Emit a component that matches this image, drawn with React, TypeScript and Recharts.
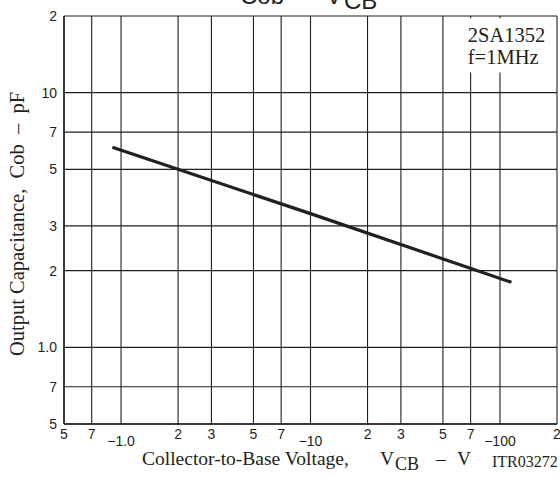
import { CartesianGrid, Customized, Line, LineChart, ReferenceArea, XAxis, YAxis } from "recharts";

// Cob vs VCB (magnitudes, volts / pF)
const vcb = [0.9, 10, 115];
const cob = [6.1, 3.35, 1.8];

const xTicks = [0.5, 0.7, 1, 2, 3, 5, 7, 10, 20, 30, 50, 70, 100, 200];
const xTickLabels = ["5", "7", "\u22121.0", "2", "3", "5", "7", "\u221210", "2", "3", "5", "7", "\u2212100", "2"];
const yTicks = [0.5, 0.7, 1, 2, 3, 5, 7, 10, 20];
const yTickLabels = ["5", "7", "1.0", "2", "3", "5", "7", "10", "2"];

const data = vcb.map((v, i) => ({ vcb: v, cob: cob[i] }));

const SANS = '"Liberation Sans", Arial, sans-serif';
const SERIF = '"Liberation Serif", "Times New Roman", serif';
const INK = "#231f20";

function XTick(props: any) {
    const { x, y, payload } = props;
    const i = xTicks.indexOf(payload.value);
    const decade = payload.value === 1 || payload.value === 10 || payload.value === 100;
    return (
        <text x={x} y={y + (decade ? 22 : 15)} textAnchor="middle" fontFamily={SANS} fontSize={14} fill={INK}>
            {xTickLabels[i]}
        </text>
    );
}

function YTick(props: any) {
    const { x, y, payload } = props;
    const i = yTicks.indexOf(payload.value);
    return (
        <text x={x - 7} y={y + 5} textAnchor="end" fontFamily={SANS} fontSize={14} fill={INK}>
            {yTickLabels[i]}
        </text>
    );
}

function DeviceLabel(props: any) {
    const vb = props.viewBox || { x: 465, y: 18 };
    return (
        <g fontFamily={SERIF} fontSize={20.5} fill={INK}>
            <text x={vb.x + 2} y={vb.y + 24}>2SA1352</text>
            <text x={vb.x + 2} y={vb.y + 46}>f=1MHz</text>
        </g>
    );
}

function Annotations() {
    return (
        <g fill={INK}>
            <text y={4} fontFamily={SANS} fontSize={24}>
                <tspan x={240}>Cob</tspan>
                <tspan x={298}>{"\u2013"}</tspan>
                <tspan x={326}>V</tspan>
                <tspan x={344} dy={5}>CB</tspan>
            </text>
            <text y={465} fontFamily={SERIF} fontSize={19.5}>
                <tspan x={142}>Collector-to-Base Voltage,</tspan>
                <tspan x={380}>V</tspan>
                <tspan x={395} dy={5} fontSize={18}>CB</tspan>
                <tspan x={436} dy={-5}>{"\u2013"}</tspan>
                <tspan x={457}>V</tspan>
            </text>
            <text x={492} y={467} fontFamily={SERIF} fontSize={16}>ITR03272</text>
            <text transform="rotate(-90)" x={-224} y={24} textAnchor="middle" fontFamily={SERIF} fontSize={20.5}>
                {"Output Capacitance,\u00a0\u00a0Cob\u00a0\u00a0\u2013\u00a0\u00a0pF"}
            </text>
        </g>
    );
}

export default function App() {
    return (
        <div style={{ position: "absolute", left: 0, top: 0, background: "#fff" }}>
            <LineChart width={560} height={478} data={data} margin={{ top: 16, right: 3, bottom: 0, left: 0 }}>
                <CartesianGrid stroke="#1e1e1e" strokeWidth={1.1} />
                <XAxis
                    dataKey="vcb"
                    type="number"
                    scale="log"
                    domain={[0.5, 200]}
                    ticks={xTicks}
                    interval={0}
                    allowDataOverflow
                    height={54}
                    tickSize={0}
                    tickMargin={0}
                    tickLine={false}
                    axisLine={{ stroke: INK, strokeWidth: 1.5 }}
                    tick={<XTick />}
                />
                <YAxis
                    type="number"
                    scale="log"
                    domain={[0.5, 20]}
                    ticks={yTicks}
                    interval={0}
                    allowDataOverflow
                    width={64}
                    tickSize={0}
                    tickMargin={0}
                    tickLine={false}
                    axisLine={{ stroke: INK, strokeWidth: 1.5 }}
                    tick={<YTick />}
                />
                <ReferenceArea x1={66} x2={186} y1={12} y2={19.6} fill="#fff" fillOpacity={1} stroke="none" label={<DeviceLabel />} />
                <Line
                    type="linear"
                    dataKey="cob"
                    stroke={INK}
                    strokeWidth={3.2}
                    dot={false}
                    isAnimationActive={false}
                />
                <Customized component={Annotations} />
            </LineChart>
        </div>
    );
}
